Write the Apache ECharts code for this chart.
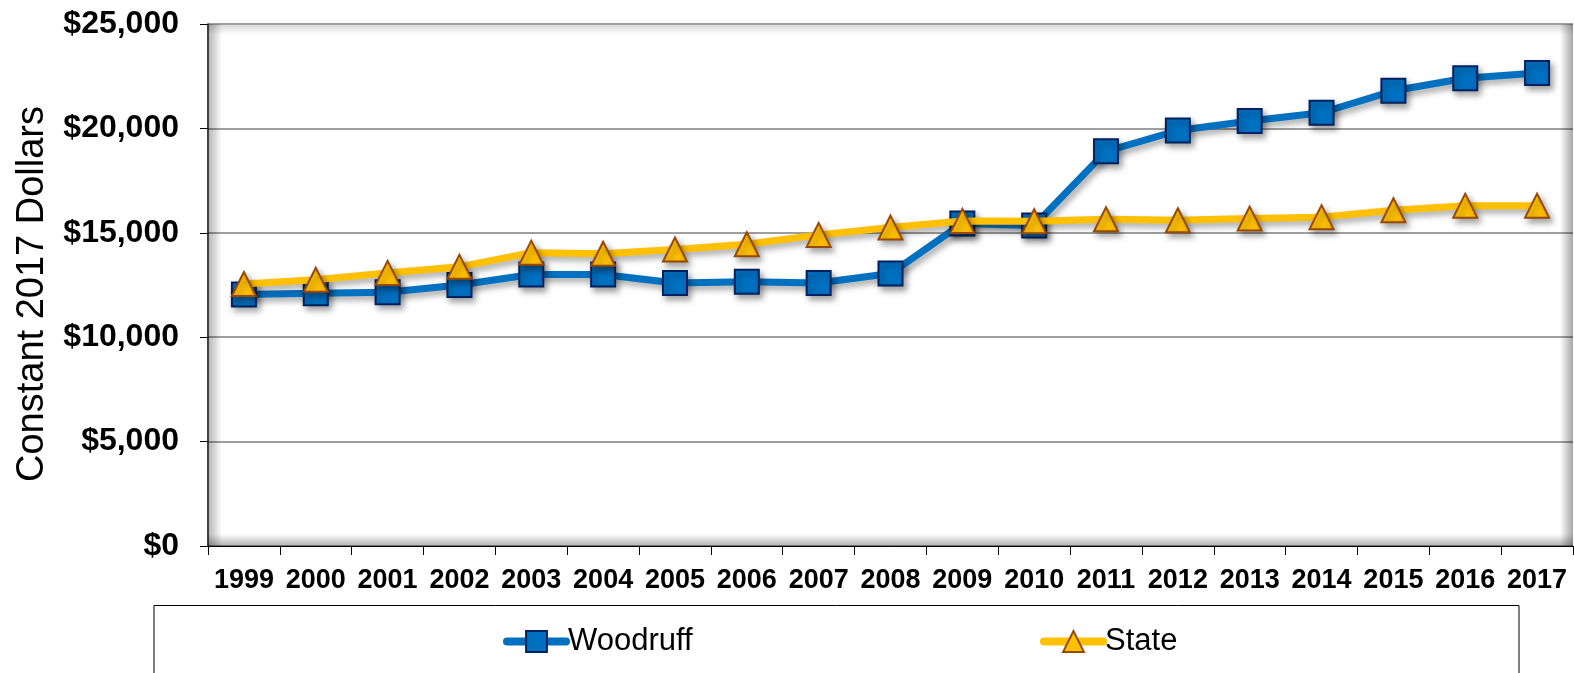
<!DOCTYPE html>
<html>
<head>
<meta charset="utf-8">
<script src="https://cdn.jsdelivr.net/npm/echarts@6/dist/echarts.min.js"></script>
<style>
html,body{margin:0;padding:0;background:#fff;}
#chart{width:1574px;height:673px;}
</style>
</head>
<body>
<div id="chart"></div>
<script>
var years = ['1999','2000','2001','2002','2003','2004','2005','2006','2007','2008','2009','2010','2011','2012','2013','2014','2015','2016','2017'];
var woodruff = [12050, 12100, 12150, 12500, 13000, 13000, 12600, 12650, 12600, 13050, 15450, 15350, 18900, 19900, 20350, 20750, 21800, 22400, 22650];
var state = [12550, 12750, 13080, 13370, 14050, 14000, 14200, 14450, 14900, 15250, 15570, 15550, 15650, 15600, 15680, 15750, 16080, 16300, 16300];
var yTicks = [0, 5000, 10000, 15000, 20000, 25000];
var yTitle = 'Constant 2017 Dollars';

var FONT = '"Liberation Sans", Arial, sans-serif';
var G = {left: 208, top: 24, right: 1, bottom: 127};
var W = 1574, H = 673;
var gx1 = W - G.right, gy1 = H - G.bottom;

function fmt(v){ return '$' + v.toString().replace(/\B(?=(\d{3})+(?!\d))/g, ','); }

var chart = echarts.init(document.getElementById('chart'), null, {renderer:'canvas'});
var shadow = {shadowColor:'rgba(0,0,0,0.35)', shadowBlur:6, shadowOffsetX:3, shadowOffsetY:4};

var legendBase = {padding:0, itemGap:0, itemHeight:26, top:626,
  lineStyle:{width:8, cap:'round', shadowBlur:0, shadowOffsetX:0, shadowOffsetY:0},
  itemStyle:{shadowBlur:0, shadowOffsetX:0, shadowOffsetY:0},
  textStyle:{fontFamily:FONT, fontSize:31, color:'#000', padding:[0,0,0,-3]}};

chart.setOption({
  animation: false,
  backgroundColor: '#ffffff',
  grid: {left: G.left, top: G.top, right: G.right, bottom: G.bottom, containLabel: false},
  graphic: [
    {type:'rect', silent:true, z:1, shape:{x:G.left+1, y:G.top, width:13, height:gy1-G.top},
      style:{fill:new echarts.graphic.LinearGradient(0,0,1,0,[{offset:0,color:'rgba(0,0,0,0.28)'},{offset:1,color:'rgba(0,0,0,0)'}])}},
    {type:'rect', silent:true, z:1, shape:{x:G.left, y:G.top+1, width:gx1-G.left, height:10},
      style:{fill:new echarts.graphic.LinearGradient(0,0,0,1,[{offset:0,color:'rgba(0,0,0,0.15)'},{offset:1,color:'rgba(0,0,0,0)'}])}},
    {type:'rect', silent:true, z:1, shape:{x:G.left, y:gy1-12, width:gx1-G.left, height:12},
      style:{fill:new echarts.graphic.LinearGradient(0,0,0,1,[{offset:0,color:'rgba(0,0,0,0)'},{offset:1,color:'rgba(0,0,0,0.3)'}])}},
    {type:'rect', silent:true, z:1, shape:{x:gx1-13, y:G.top, width:13, height:gy1-G.top},
      style:{fill:new echarts.graphic.LinearGradient(0,0,1,0,[{offset:0,color:'rgba(0,0,0,0)'},{offset:1,color:'rgba(0,0,0,0.35)'}])}},
    {type:'rect', silent:true, z:1, shape:{x:154, y:605.5, width:1365, height:120},
      style:{fill:'none', stroke:'#000', lineWidth:1}}
  ],
  legend: [
    Object.assign({data:['Woodruff'], left:503, itemWidth:59}, legendBase),
    Object.assign({data:['State'], left:1040, itemWidth:59}, legendBase)
  ],
  xAxis: {
    type:'category', data: years, boundaryGap: true,
    axisLine:{show:true, lineStyle:{color:'#000', width:1}},
    axisTick:{show:true, length:9, lineStyle:{color:'#000', width:1}},
    axisLabel:{fontFamily:FONT, fontSize:27, fontWeight:'bold', color:'#000', margin:21, interval:0},
    splitLine:{show:false}
  },
  yAxis: {
    type:'value', min:0, max:25000, interval:5000,
    name: yTitle, nameLocation:'middle', nameRotate:90, nameGap:156,
    nameTextStyle:{fontFamily:FONT, fontSize:38, color:'#000', padding:[0,18,0,0]},
    axisLine:{show:true, lineStyle:{color:'#000', width:1.5}},
    axisTick:{show:true, length:8, lineStyle:{color:'#000', width:1}},
    axisLabel:{fontFamily:FONT, fontSize:32, fontWeight:'bold', color:'#000', margin:29,
      formatter:function(v){ return yTicks.indexOf(v) >= 0 ? fmt(v) : ''; }},
    splitLine:{show:true, lineStyle:{color:'#7f7f7f', width:1.5}}
  },
  series: [
    {name:'Woodruff', type:'line', data: woodruff, z:3,
      symbol:'rect', symbolSize:24,
      lineStyle:Object.assign({color:'#0070C0', width:7}, shadow),
      itemStyle:Object.assign({color:'#0070C0', borderColor:'#002060', borderWidth:2}, shadow)},
    {name:'State', type:'line', data: state, z:4,
      symbol:'triangle', symbolSize:[24,24],
      lineStyle:Object.assign({color:'#FFC000', width:7}, shadow),
      itemStyle:Object.assign({color:'#FFC000', borderColor:'#984807', borderWidth:2}, shadow)}
  ]
});
</script>
</body>
</html>
